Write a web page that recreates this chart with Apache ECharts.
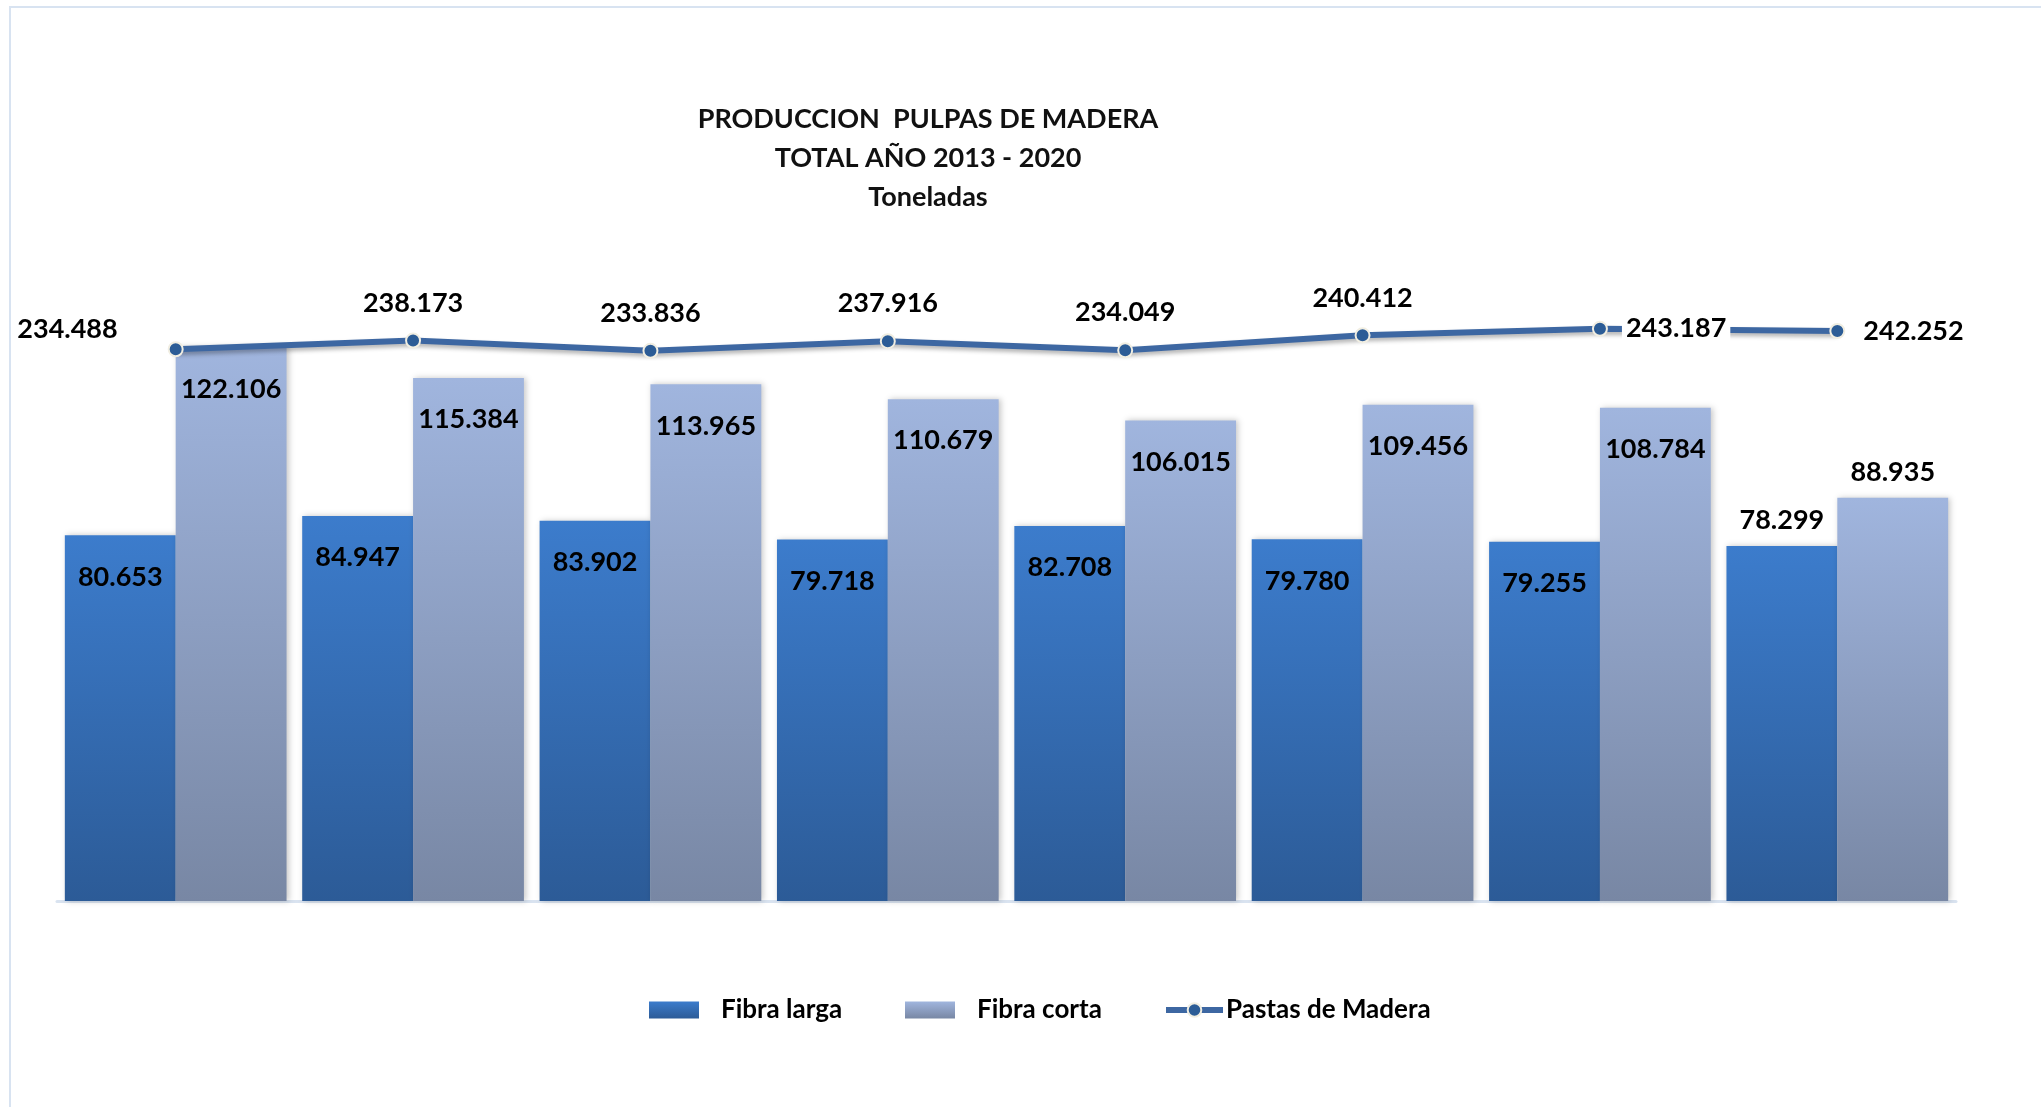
<!DOCTYPE html>
<html>
<head>
<meta charset="utf-8">
<title>Produccion pulpas de madera</title>
<script src="https://cdn.jsdelivr.net/npm/echarts@6/dist/echarts.min.js"></script>
<style>
  html, body { margin: 0; padding: 0; background: #fff; }
  #main { width: 2041px; height: 1107px; }
</style>
</head>
<body>
<div id="main"></div>
<script>
// datos (miles de toneladas)
var years = ['2013', '2014', '2015', '2016', '2017', '2018', '2019', '2020'];
var fibraLarga = [80.653, 84.947, 83.902, 79.718, 82.708, 79.780, 79.255, 78.299];
var fibraCorta = [122.106, 115.384, 113.965, 110.679, 106.015, 109.456, 108.784, 88.935];
var pastasMadera = [234.488, 238.173, 233.836, 237.916, 234.049, 240.412, 243.187, 242.252];

var FONT = 'Lato';
var last = years.length - 1;

function fmt(p) {
  return Number(p.value).toFixed(3);
}

var labelStyle = {
  show: true,
  fontFamily: FONT,
  fontWeight: 'bold',
  fontSize: 27,
  color: '#000',
  formatter: fmt
};

// barras: la ultima pareja lleva la etiqueta encima
function barData(arr) {
  return arr.map(function (v, i) {
    if (i === last) {
      return { value: v, label: { position: 'top', distance: 12 } };
    }
    return v;
  });
}

// linea: primera etiqueta a la izquierda, ultimas dos a la derecha
function lineData(arr) {
  return arr.map(function (v, i) {
    if (i === 0) return { value: v, label: { position: 'left', distance: 46, offset: [0, -20] } };
    if (i >= last - 1) return { value: v, label: { position: 'right', distance: 14 } };
    return v;
  });
}

var legendText = { fontFamily: FONT, fontWeight: 'bold', fontSize: 26, color: '#000' };

var myChart = echarts.init(document.getElementById('main'));

var option = {
  backgroundColor: '#fff',
  animation: false,
  graphic: [{
    type: 'rect',
    shape: { x: 10, y: 7, width: 2100, height: 1200 },
    style: { fill: 'none', stroke: '#d8e3f1', lineWidth: 2 },
    silent: true
  }],
  title: {
    text: 'PRODUCCION  PULPAS DE MADERA\nTOTAL AÑO 2013 - 2020\nToneladas',
    left: 923,
    top: 95,
    textAlign: 'center',
    textStyle: {
      fontFamily: FONT,
      fontWeight: 'bold',
      fontSize: 27,
      lineHeight: 39,
      color: '#111'
    }
  },
  legend: [
    {
      data: [{ name: 'Fibra larga', icon: 'rect' }],
      left: 644, top: 992,
      itemWidth: 50, itemHeight: 17,
      textStyle: Object.assign({ padding: [0, 0, 0, 17] }, legendText)
    },
    {
      data: [{ name: 'Fibra corta', icon: 'rect' }],
      left: 900, top: 992,
      itemWidth: 50, itemHeight: 17,
      textStyle: Object.assign({ padding: [0, 0, 0, 17] }, legendText)
    },
    {
      data: ['Pastas de Madera'],
      left: 1158, top: 992,
      itemWidth: 57, itemHeight: 17,
      lineStyle: { width: 6 },
      textStyle: Object.assign({ padding: [0, 0, 0, -2] }, legendText)
    }
  ],
  grid: {
    left: 57,
    right: 85,
    top: 221,
    bottom: 206
  },
  xAxis: {
    type: 'category',
    data: years,
    axisLine: { show: true, lineStyle: { color: '#d9e3f0', width: 3 } },
    axisTick: { show: false },
    axisLabel: { show: false }
  },
  yAxis: [
    { type: 'value', min: 0, max: 150, show: false, splitLine: { show: false } },
    { type: 'value', min: 0, max: 289, show: false, splitLine: { show: false } }
  ],
  series: [
    {
      name: 'Fibra larga',
      type: 'bar',
      barGap: '0%',
      barCategoryGap: '6.6%',
      data: barData(fibraLarga),
      itemStyle: {
        color: new echarts.graphic.LinearGradient(0, 0, 0, 1, [
          { offset: 0, color: '#3c7ccc' },
          { offset: 1, color: '#2c5b97' }
        ]),
        shadowColor: 'rgba(0,0,0,0.22)',
        shadowBlur: 6,
        shadowOffsetX: 2
      },
      label: Object.assign({}, labelStyle, { position: 'insideTop', distance: 28 })
    },
    {
      name: 'Fibra corta',
      type: 'bar',
      data: barData(fibraCorta),
      itemStyle: {
        color: new echarts.graphic.LinearGradient(0, 0, 0, 1, [
          { offset: 0, color: '#a0b5de' },
          { offset: 1, color: '#7887a4' }
        ]),
        shadowColor: 'rgba(0,0,0,0.22)',
        shadowBlur: 6,
        shadowOffsetX: 2
      },
      label: Object.assign({}, labelStyle, { position: 'insideTop', distance: 28 })
    },
    {
      name: 'Pastas de Madera',
      type: 'line',
      yAxisIndex: 1,
      z: 5,
      data: lineData(pastasMadera),
      symbol: 'circle',
      symbolSize: 14,
      lineStyle: {
        color: '#3d67a2',
        width: 6,
        shadowColor: 'rgba(0,0,0,0.3)',
        shadowBlur: 4,
        shadowOffsetY: 3
      },
      itemStyle: {
        color: '#2c5c96',
        borderColor: '#f1eee2',
        borderWidth: 2
      },
      label: Object.assign({}, labelStyle, {
        position: 'top',
        distance: 14,
        backgroundColor: '#fff',
        padding: [2, 4]
      })
    }
  ]
};

myChart.setOption(option);
</script>
</body>
</html>
